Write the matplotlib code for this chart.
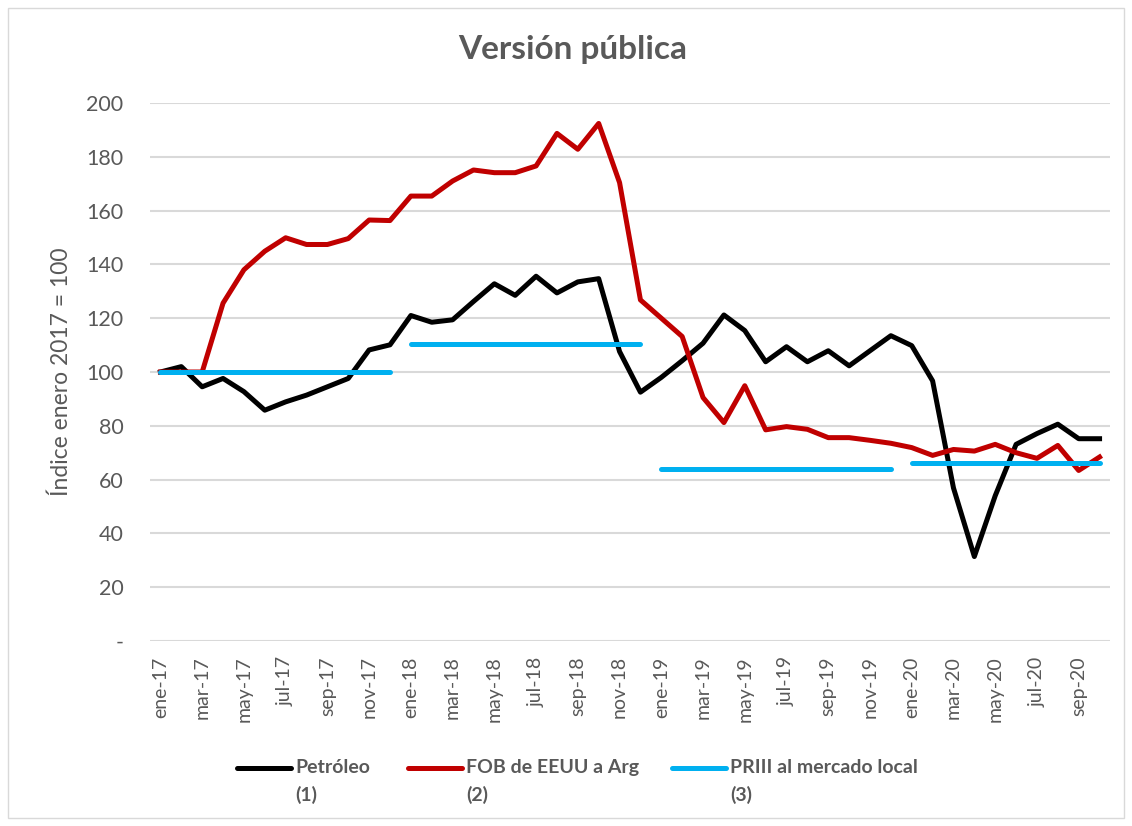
import matplotlib
matplotlib.use("Agg")
import matplotlib.pyplot as plt
from matplotlib.lines import Line2D
from matplotlib.patches import Rectangle

# meses ene-17 .. oct-20
mes_nombres = ["ene", "feb", "mar", "abr", "may", "jun", "jul", "ago", "sep", "oct", "nov", "dic"]
meses = [f"{m}-{a}" for a in ["17", "18", "19", "20"] for m in mes_nombres][:46]

petroleo = [100, 102, 94.5, 97.6, 92.7, 85.8, 88.9, 91.4, 94.5, 97.6, 108.2, 110.1,
            121, 118.5, 119.4, 126.2, 132.8, 128.5, 135.6, 129.4, 133.5, 134.7, 107.6, 92.5,
            98, 104.2, 110.7, 121.2, 115.4, 103.8, 109.4, 103.8, 107.9, 102.3, 107.9, 113.5,
            109.8, 96.7, 56.9, 31.4, 54, 73.1, 77.1, 80.6, 75.2, 75.2]
fob = [100, 100, 100, 125.6, 138, 144.9, 149.9, 147.4, 147.4, 149.6, 156.5, 156.3,
       165.4, 165.4, 171, 175.1, 174.1, 174.1, 176.6, 188.7, 182.8, 192.4, 170.4, 126.8,
       120, 113.2, 90.5, 81.2, 94.9, 78.5, 79.7, 78.7, 75.6, 75.6, 74.6, 73.5,
       71.9, 69, 71.2, 70.6, 73.1, 70, 67.9, 72.7, 63.4, 68.4]
# PRIII: un nivel por tramo anual
priii_nivel = [100, 110.3, 64, 66]
priii_desde = [0, 12, 24, 36]
priii_hasta = [11, 23, 35, 45]

gris = "#595959"
c_pet, c_fob, c_priii = "black", "#c00000", "#00b0f0"
fuente = "Lato"

fig = plt.figure(figsize=(11.32, 8.26), dpi=100)
ax = fig.add_axes([150 / 1132, 1 - 641 / 826, 960 / 1132, 538 / 826])

x = list(range(len(meses)))
ax.plot(x, petroleo, color=c_pet, lw=3.6, zorder=3)
ax.plot(x, fob, color=c_fob, lw=3.6, zorder=4)
for nivel, d, h in zip(priii_nivel, priii_desde, priii_hasta):
    ax.plot([d, h], [nivel, nivel], color=c_priii, lw=3.6, solid_capstyle="round", zorder=5)

ax.set_xlim(-0.5, len(meses) - 0.5)
ax.set_ylim(0, 200)
ax.set_yticks(range(0, 201, 20))
ax.set_yticklabels(["-"] + [str(v) for v in range(20, 201, 20)], fontfamily=fuente, fontsize=15.5, color=gris)
ax.set_xticks(x[::2])
ax.set_xticklabels(meses[::2], rotation=90, fontfamily=fuente, fontsize=14, color=gris)
ax.tick_params(length=0)
ax.tick_params(axis="x", pad=11)
ax.tick_params(axis="y", pad=19)
ax.grid(axis="y", color="#d9d9d9", lw=1.5)
ax.set_axisbelow(True)
for s in ax.spines.values():
    s.set_visible(False)

ax.set_ylabel("Índice enero 2017 = 100", fontfamily=fuente, fontsize=16.5, color=gris, labelpad=10)
fig.text(573 / 1132, 1 - 50 / 826, "Versión pública", ha="center", va="center",
         fontfamily=fuente, fontsize=24, fontweight="bold", color=gris)

# leyenda manual
items = [(c_pet, "Petróleo\n(1)", 237), (c_fob, "FOB de EEUU a Arg\n(2)", 408),
         (c_priii, "PRIII al mercado local\n(3)", 672)]
yl = 1 - 768 / 826
for col, txt, x0 in items:
    fig.add_artist(Line2D([x0 / 1132, (x0 + 54) / 1132], [yl, yl], color=col, lw=3.6,
                          solid_capstyle="round", transform=fig.transFigure))
    fig.text((x0 + 58) / 1132, yl + 9 / 826, txt, ha="left", va="top", fontfamily=fuente,
             fontsize=14, fontweight="bold", color=gris, linespacing=1.65)

fig.add_artist(Rectangle((8 / 1132, 8 / 826), 1116 / 1132, 810 / 826, fill=False,
                         edgecolor="#d9d9d9", lw=1, transform=fig.transFigure))

fig.savefig("out.png", dpi=100, facecolor="white")
